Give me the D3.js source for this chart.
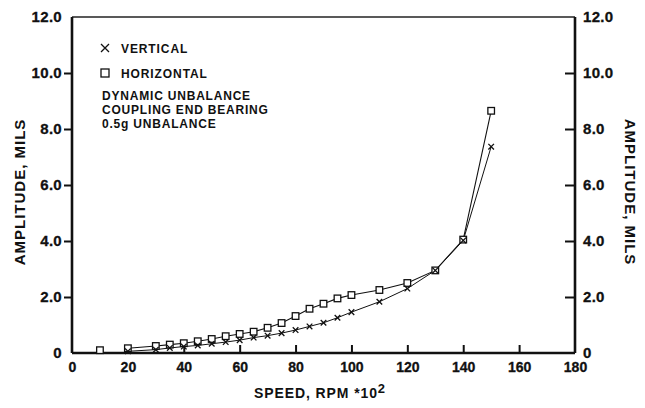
<!DOCTYPE html>
<html lang="en">
  <head>
    <meta charset="utf-8" />
    <title>Amplitude vs speed</title>
    <script src="https://d3js.org/d3.v7.min.js"></script>
    <style>
      body { margin: 0; background: #fff; }
      text { font-family: "Liberation Sans", Arial, sans-serif; font-weight: bold; fill: #111; }
    </style>
  </head>
  <body>
    <div id="graph-container"></div>
    <script type="text/javascript">
      // horizontal (square markers)
      const horizSpeed = [10, 20, 30, 35, 40, 45, 50, 55, 60, 65, 70, 75, 80, 85, 90, 95, 100, 110, 120, 130, 140, 150];
      const horizAmp = [0.1, 0.17, 0.25, 0.3, 0.35, 0.42, 0.5, 0.6, 0.68, 0.76, 0.9, 1.07, 1.32, 1.58, 1.76, 1.95, 2.07, 2.25, 2.5, 2.95, 4.05, 8.65];
      // vertical (x markers)
      const vertSpeed = [20, 30, 35, 40, 45, 50, 55, 60, 65, 70, 75, 80, 85, 90, 95, 100, 110, 120, 130, 140, 150];
      const vertAmp = [0.06, 0.12, 0.18, 0.23, 0.27, 0.33, 0.39, 0.46, 0.55, 0.62, 0.71, 0.82, 0.95, 1.08, 1.26, 1.46, 1.83, 2.3, 2.95, 4.02, 7.37];

      const xTicks = [0, 20, 40, 60, 80, 100, 120, 140, 160, 180];
      const yTicks = [0, 2, 4, 6, 8, 10, 12];
      const legendLines = ["DYNAMIC UNBALANCE", "COUPLING END BEARING", "0.5g UNBALANCE"];

      const cW = 645, cH = 408;
      const cLeft = 72, cRight = 575, cTop = 17, cBottom = 353;

      const svg = d3.select("#graph-container").append("svg")
        .attr("width", cW).attr("height", cH);

      const xScale = d3.scaleLinear().domain([0, 180]).range([cLeft, cRight]);
      const yScale = d3.scaleLinear().domain([0, 12]).range([cBottom, cTop]);
      const yFmt = (d) => (d === 0 ? "0" : d.toFixed(1));

      // axes
      const gLeft = svg.append("g").attr("transform", `translate(${cLeft},0)`)
        .call(d3.axisLeft(yScale).tickValues(yTicks).tickFormat(yFmt).tickSize(8).tickPadding(2));
      const gRight = svg.append("g").attr("transform", `translate(${cRight},0)`)
        .call(d3.axisRight(yScale).tickValues(yTicks).tickFormat(yFmt).tickSize(-10).tickPadding(8));
      const gBottom = svg.append("g").attr("transform", `translate(0,${cBottom})`)
        .call(d3.axisBottom(xScale).tickValues(xTicks).tickSize(-8).tickPadding(9));

      [gLeft, gRight, gBottom].forEach((g) => {
        g.select(".domain").remove();
        g.selectAll(".tick line").attr("stroke", "#111").attr("stroke-width", 2);
        g.selectAll(".tick text").style("font-size", "15px").style("letter-spacing", "0.3px")
          .attr("fill", "#111").attr("stroke", "#111").attr("stroke-width", 0.3)
          .style("font-family", "'Liberation Sans', Arial, sans-serif")
          .style("font-weight", "bold");
      });
      gLeft.selectAll(".tick").filter((d) => d === 0 || d === 12).select("line").remove();
      gRight.selectAll(".tick").filter((d) => d === 0 || d === 12).select("line").remove();
      gBottom.selectAll(".tick").filter((d) => d === 0 || d === 180).select("line").remove();
      gBottom.selectAll(".tick text").style("font-size", "14px").style("letter-spacing", "0px");

      // frame
      svg.append("line").attr("x1", cLeft).attr("x2", cRight).attr("y1", cTop).attr("y2", cTop)
        .attr("stroke", "#222").attr("stroke-width", 1.6);
      svg.append("line").attr("x1", cLeft).attr("x2", cRight).attr("y1", cBottom).attr("y2", cBottom)
        .attr("stroke", "#111").attr("stroke-width", 2.6);
      svg.append("line").attr("x1", cLeft).attr("x2", cLeft).attr("y1", cTop).attr("y2", cBottom)
        .attr("stroke", "#111").attr("stroke-width", 2.6);
      svg.append("line").attr("x1", cRight).attr("x2", cRight).attr("y1", cTop).attr("y2", cBottom)
        .attr("stroke", "#111").attr("stroke-width", 2.6);

      // axis titles
      svg.append("text").attr("x", 320).attr("y", 398).attr("text-anchor", "middle")
        .style("font-size", "14px").style("letter-spacing", "0.9px")
        .text("SPEED, RPM *10")
        .append("tspan").attr("dy", -5).style("font-size", "13px").text("2");
      svg.append("text").attr("transform", "translate(25,192) rotate(-90)").attr("text-anchor", "middle")
        .style("font-size", "15px").style("letter-spacing", "1px").text("AMPLITUDE, MILS");
      svg.append("text").attr("transform", "translate(625,192) rotate(90)").attr("text-anchor", "middle")
        .style("font-size", "15px").style("letter-spacing", "1px").text("AMPLITUDE, MILS");

      // series
      const horiz = horizSpeed.map((s, i) => ({ s, a: horizAmp[i] }));
      const vert = vertSpeed.map((s, i) => ({ s, a: vertAmp[i] }));
      const line = d3.line().x((d) => xScale(d.s)).y((d) => yScale(d.a));

      svg.append("path").datum(horiz.filter((d) => d.s >= 20)).attr("d", line)
        .attr("fill", "none").attr("stroke", "#111").attr("stroke-width", 1.1);
      svg.append("path").datum(vert).attr("d", line)
        .attr("fill", "none").attr("stroke", "#111").attr("stroke-width", 1);

      const sq = 3.3, xs = 2.8;
      svg.selectAll("rect.h").data(horiz).enter().append("rect").attr("class", "h")
        .attr("x", (d) => xScale(d.s) - sq).attr("y", (d) => yScale(d.a) - sq)
        .attr("width", sq * 2).attr("height", sq * 2)
        .attr("fill", "#fff").attr("stroke", "#111").attr("stroke-width", 1.3);
      svg.selectAll("path.v").data(vert).enter().append("path").attr("class", "v")
        .attr("d", (d) => {
          const cx = xScale(d.s), cy = yScale(d.a);
          return `M${cx - xs},${cy - xs}L${cx + xs},${cy + xs}M${cx - xs},${cy + xs}L${cx + xs},${cy - xs}`;
        })
        .attr("stroke", "#111").attr("stroke-width", 1.3);

      // legend
      const lg = svg.append("g");
      lg.append("path").attr("d", "M101,44L109,52M101,52L109,44").attr("stroke", "#111").attr("stroke-width", 1.3);
      lg.append("text").attr("x", 121).attr("y", 53).style("font-size", "12px").style("letter-spacing", "0.9px").text("VERTICAL");
      lg.append("rect").attr("x", 101).attr("y", 69).attr("width", 8).attr("height", 8)
        .attr("fill", "#fff").attr("stroke", "#111").attr("stroke-width", 1.3);
      lg.append("text").attr("x", 121).attr("y", 78).style("font-size", "12px").style("letter-spacing", "0.9px").text("HORIZONTAL");
      lg.selectAll("text.note").data(legendLines).enter().append("text").attr("class", "note")
        .attr("x", 102).attr("y", (d, i) => 100 + i * 14)
        .style("font-size", "12px").style("letter-spacing", "0.8px").text((d) => d);
    </script>
  </body>
</html>
